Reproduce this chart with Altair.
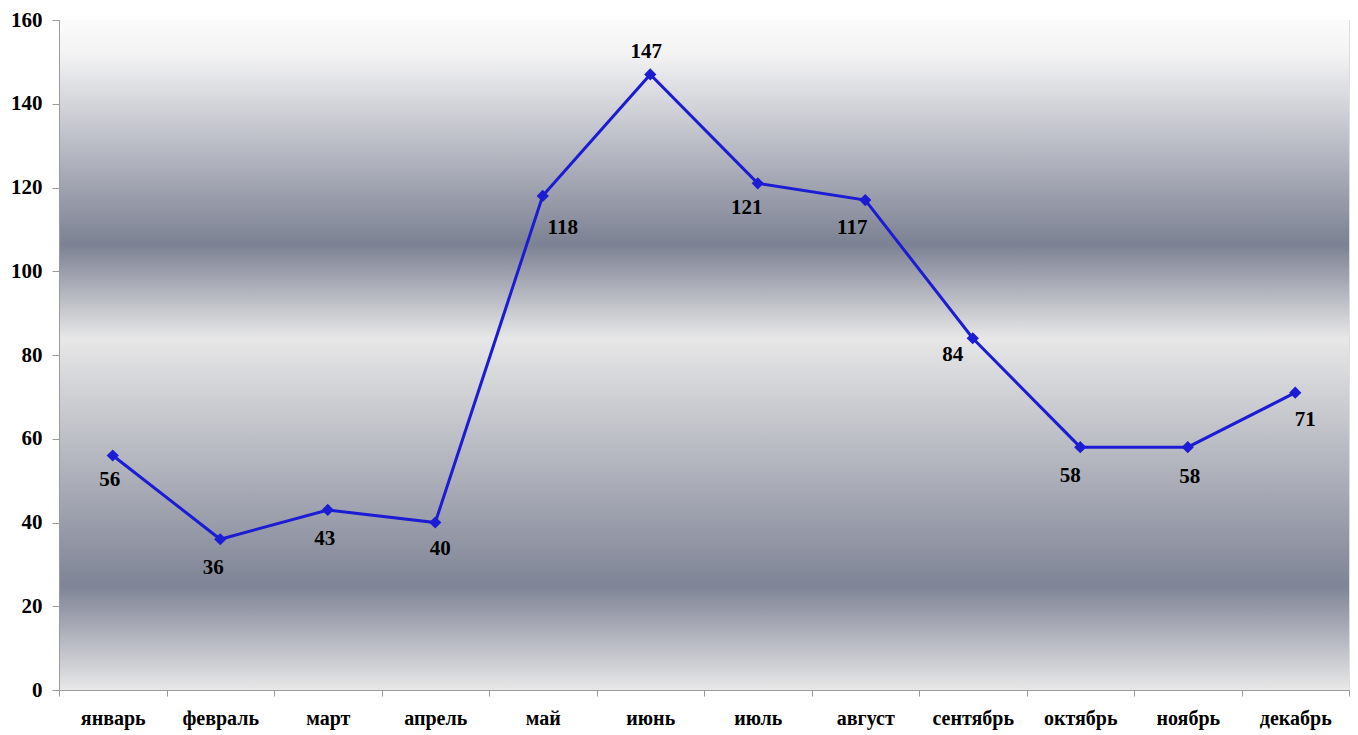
import altair as alt
import pandas as pd

# Monthly values
months = ["январь", "февраль", "март", "апрель", "май", "июнь",
          "июль", "август", "сентябрь", "октябрь", "ноябрь", "декабрь"]
values = [56, 36, 43, 40, 118, 147, 121, 117, 84, 58, 58, 71]

# Label placement offsets (pixels) relative to each marker
label_dx = [-3, -7, -3, 5, 20, -4, -11, -13, -20, -10, 2, 10]
label_dy = [24, 29, 29, 26, 32, -22, 25, 28, 17, 29, 30, 27]

df = pd.DataFrame({"month": months, "value": values})

FONT = "Liberation Serif"
LINE = "#1c1cd4"

x_enc = alt.X("month:N", sort=months, bandPosition=0.5,
              scale=alt.Scale(type="band", paddingInner=0, paddingOuter=0),
              axis=alt.Axis(title=None, labelAngle=0, tickBand="extent",
                            labelFont=FONT, labelFontSize=20, labelFontWeight="bold",
                            labelColor="#000000", labelPadding=12, tickSize=6,
                            domainColor="#9a9a9a", tickColor="#9a9a9a", zindex=1))
y_enc = alt.Y("value:Q",
              scale=alt.Scale(domain=[0, 160], nice=False),
              axis=alt.Axis(title=None, values=list(range(0, 161, 20)), grid=False,
                            labelFont=FONT, labelFontSize=21, labelFontWeight="bold",
                            labelColor="#000000", labelPadding=10, tickSize=7,
                            domainColor="#9a9a9a", tickColor="#9a9a9a", zindex=1))

# Banded grey gradient behind the plot
backdrop = alt.Chart(alt.Data(values=[{}])).mark_rect(
    fill=alt.Gradient(
        gradient="linear", x1=0, x2=0, y1=0, y2=1,
        stops=[
            alt.GradientStop(color="#fbfbfb", offset=0.0),
            alt.GradientStop(color="#f3f3f4", offset=0.05),
            alt.GradientStop(color="#7c8193", offset=0.335),
            alt.GradientStop(color="#e7e7e7", offset=0.475),
            alt.GradientStop(color="#7f8496", offset=0.845),
            alt.GradientStop(color="#e8e8e8", offset=1.0),
        ],
    )
).encode(x=alt.value(0), x2=alt.value("width"), y=alt.value(0), y2=alt.value("height"))

base = alt.Chart(df).encode(x=x_enc, y=y_enc)

line = base.mark_line(color=LINE, strokeWidth=3)
points = base.mark_point(shape="diamond", filled=True, color=LINE, size=150, opacity=1)

# One text layer per month so each value label gets its own offset
label_layers = [
    base.transform_filter(alt.datum.month == m)
        .mark_text(font=FONT, fontSize=21, fontWeight="bold", color="#000000",
                   dx=ddx, dy=ddy)
        .encode(text="value:Q")
    for m, ddx, ddy in zip(months, label_dx, label_dy)
]

chart = alt.layer(backdrop, line, points, *label_layers).properties(
    width=1290, height=670,
    autosize=alt.AutoSizeParams(type="none"),
    padding={"left": 59, "top": 20, "right": 9, "bottom": 45},
).configure_view(stroke=None).configure(background="#ffffff")

chart.save("out.html", embed_options={"renderer": "svg", "actions": False})
